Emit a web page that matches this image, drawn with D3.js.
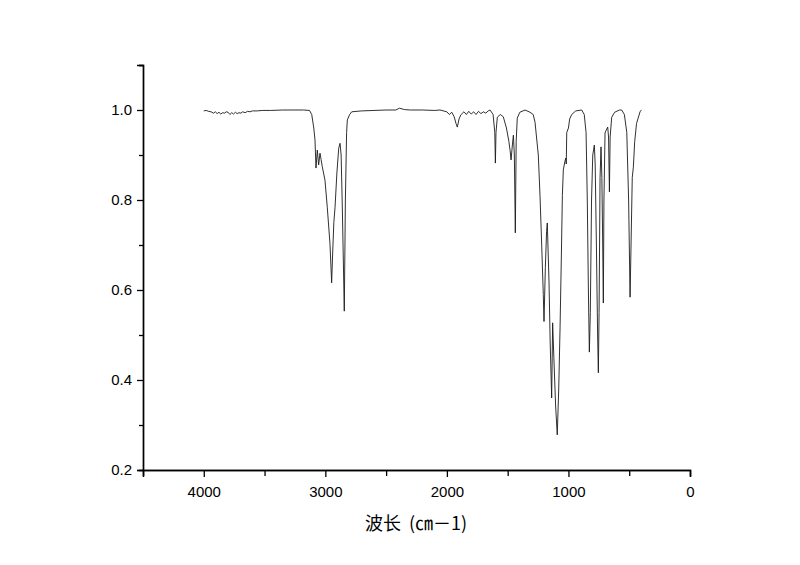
<!DOCTYPE html>
<html>
<head>
<meta charset="utf-8">
<script src="https://cdn.jsdelivr.net/npm/d3@7"></script>
<style>
  html, body { margin: 0; padding: 0; background: #fff; }
  svg { display: block; }
</style>
</head>
<body>
<svg id="chart" width="800" height="565"></svg>
<script>
// Wavenumber (cm-1) values of the spectrum points
const wavenumber = [
  4000, 3980, 3960, 3940, 3920, 3905, 3890, 3875, 3860, 3845, 3830, 3815, 3800, 3785, 3770, 3755,
  3740, 3725, 3710, 3695, 3680, 3660, 3640, 3620, 3600, 3560, 3520, 3450, 3350, 3250, 3180, 3130,
  3112, 3095, 3085, 3077, 3066, 3055, 3044, 3035, 3025, 3003, 2984, 2962, 2948, 2940, 2930, 2920,
  2905, 2890, 2879, 2870, 2860, 2844, 2835, 2825, 2819, 2800, 2783, 2700, 2600, 2500, 2420, 2390,
  2350, 2300, 2200, 2100, 2057, 2000, 1980, 1960, 1940, 1925, 1914, 1900, 1886, 1860, 1840, 1820,
  1800, 1780, 1760, 1740, 1720, 1700, 1680, 1660, 1645, 1620, 1606, 1601, 1596, 1585, 1560, 1536,
  1510, 1490, 1480, 1472, 1462, 1453, 1445, 1437, 1430, 1421, 1400, 1357, 1316, 1290, 1275, 1248,
  1234, 1220, 1207, 1201, 1190, 1180, 1174, 1160, 1150, 1138, 1130, 1120, 1105, 1092, 1080, 1069,
  1058, 1050, 1042, 1030, 1022, 1018, 1014, 1000, 990, 973, 940, 891, 870, 855, 845, 835,
  828, 820, 810, 800, 787, 780, 770, 760, 754, 748, 740, 732, 725, 718, 713, 708,
  699, 690, 677, 670, 663, 657, 644, 620, 580, 562, 540, 520, 505, 493, 485, 475,
  466, 455, 440, 411, 400
];
// Transmittance values matching the wavenumbers above
const transmittance = [
  0.998, 0.999, 0.997, 0.996, 0.993, 0.996, 0.992, 0.995, 0.991, 0.994, 0.993, 0.996, 0.995, 0.990, 0.994, 0.991,
  0.995, 0.992, 0.994, 0.993, 0.996, 0.994, 0.997, 0.996, 0.998, 0.998, 0.999, 0.999, 1.000, 1.000, 1.000, 0.999,
  0.990, 0.960, 0.933, 0.871, 0.911, 0.878, 0.904, 0.890, 0.874, 0.844, 0.784, 0.704, 0.616, 0.680, 0.750, 0.784,
  0.860, 0.915, 0.926, 0.900, 0.780, 0.553, 0.800, 0.950, 0.978, 0.990, 0.996, 0.998, 0.999, 1.000, 1.000, 1.004,
  1.001, 1.000, 1.000, 0.999, 1.000, 0.996, 0.990, 0.995, 0.985, 0.970, 0.962, 0.980, 0.989, 0.996, 0.990, 0.997,
  0.991, 0.996, 0.990, 0.997, 0.992, 0.996, 0.993, 0.998, 1.000, 0.990, 0.950, 0.882, 0.950, 0.984, 0.990, 0.985,
  0.960, 0.930, 0.910, 0.889, 0.920, 0.944, 0.900, 0.727, 0.930, 0.982, 0.995, 1.000, 0.995, 0.990, 0.973, 0.900,
  0.810, 0.700, 0.590, 0.530, 0.650, 0.730, 0.749, 0.620, 0.480, 0.360, 0.527, 0.450, 0.340, 0.278, 0.380, 0.516,
  0.680, 0.810, 0.867, 0.885, 0.893, 0.880, 0.950, 0.960, 0.980, 0.990, 0.998, 1.000, 0.990, 0.950, 0.800, 0.580,
  0.462, 0.550, 0.800, 0.900, 0.922, 0.880, 0.700, 0.500, 0.416, 0.550, 0.850, 0.918, 0.850, 0.700, 0.571, 0.800,
  0.949, 0.955, 0.962, 0.940, 0.818, 0.940, 0.984, 0.995, 1.000, 1.000, 0.990, 0.950, 0.800, 0.584, 0.700, 0.850,
  0.873, 0.930, 0.970, 0.996, 1.000
];
const xDomain = [4500, 0];
const yDomain = [0.2, 1.1];
const xTickLabels = [4000, 3000, 2000, 1000, 0];
const yTickLabels = [0.2, 0.4, 0.6, 0.8, 1.0];
const xMinorTicks = [4500, 3500, 2500, 1500, 500];
const yMinorTicks = [0.3, 0.5, 0.7, 0.9, 1.1];
const xAxisTitleParts = ["波长", "(㎝－1)"];

(function () {
  const svg = d3.select("#chart");
  svg.append("rect").attr("width", 800).attr("height", 565).attr("fill", "#fff");

  const mLeft = 143, mRight = 690, mTop = 65, mBottom = 470;
  const x = d3.scaleLinear().domain(xDomain).range([mLeft, mRight]);
  const y = d3.scaleLinear().domain(yDomain).range([mBottom, mTop]);

  const fontFam = "'Liberation Sans', Arial, sans-serif";

  // spectrum line
  const pts = wavenumber.map((w, i) => [w, transmittance[i]]);
  svg.append("path")
    .datum(pts)
    .attr("fill", "none")
    .attr("stroke", "#1a1a1a")
    .attr("stroke-width", 0.9)
    .attr("stroke-linejoin", "round")
    .attr("d", d3.line().x(d => x(d[0])).y(d => y(d[1])));

  // X axis
  const gx = svg.append("g").attr("transform", `translate(0,${mBottom})`);
  gx.call(d3.axisBottom(x).tickValues(xTickLabels).tickSize(7).tickPadding(9).tickFormat(d3.format("d")));
  gx.append("g").call(d3.axisBottom(x).tickValues(xMinorTicks).tickSize(6).tickFormat(""));
  gx.selectAll(".domain").attr("stroke", "#000").attr("stroke-width", 1.4);
  gx.selectAll(".tick line").attr("stroke", "#000").attr("stroke-width", 1.3);
  gx.selectAll("text").attr("font-family", fontFam).attr("font-size", 15).attr("fill", "#000");

  // Y axis
  const gy = svg.append("g").attr("transform", `translate(${mLeft},0)`);
  gy.call(d3.axisLeft(y).tickValues(yTickLabels).tickSize(6).tickPadding(5).tickFormat(d3.format(".1f")));
  gy.append("g").call(d3.axisLeft(y).tickValues(yMinorTicks).tickSize(4).tickFormat(""));
  gy.selectAll(".domain").attr("stroke", "#000").attr("stroke-width", 1.4);
  gy.selectAll(".tick line").attr("stroke", "#000").attr("stroke-width", 1.3);
  gy.selectAll("text").attr("font-family", fontFam).attr("font-size", 15).attr("fill", "#000");

  // axis title
  const t = svg.append("text")
    .attr("x", 416)
    .attr("y", 530)
    .attr("text-anchor", "middle")
    .attr("font-family", "'Noto Sans CJK SC', 'Liberation Sans', sans-serif")
    .attr("font-size", 18)
    .attr("fill", "#000");
  t.append("tspan").text(xAxisTitleParts[0]);
  t.append("tspan").attr("dx", 8).text(xAxisTitleParts[1]);
})();
</script>
</body>
</html>
